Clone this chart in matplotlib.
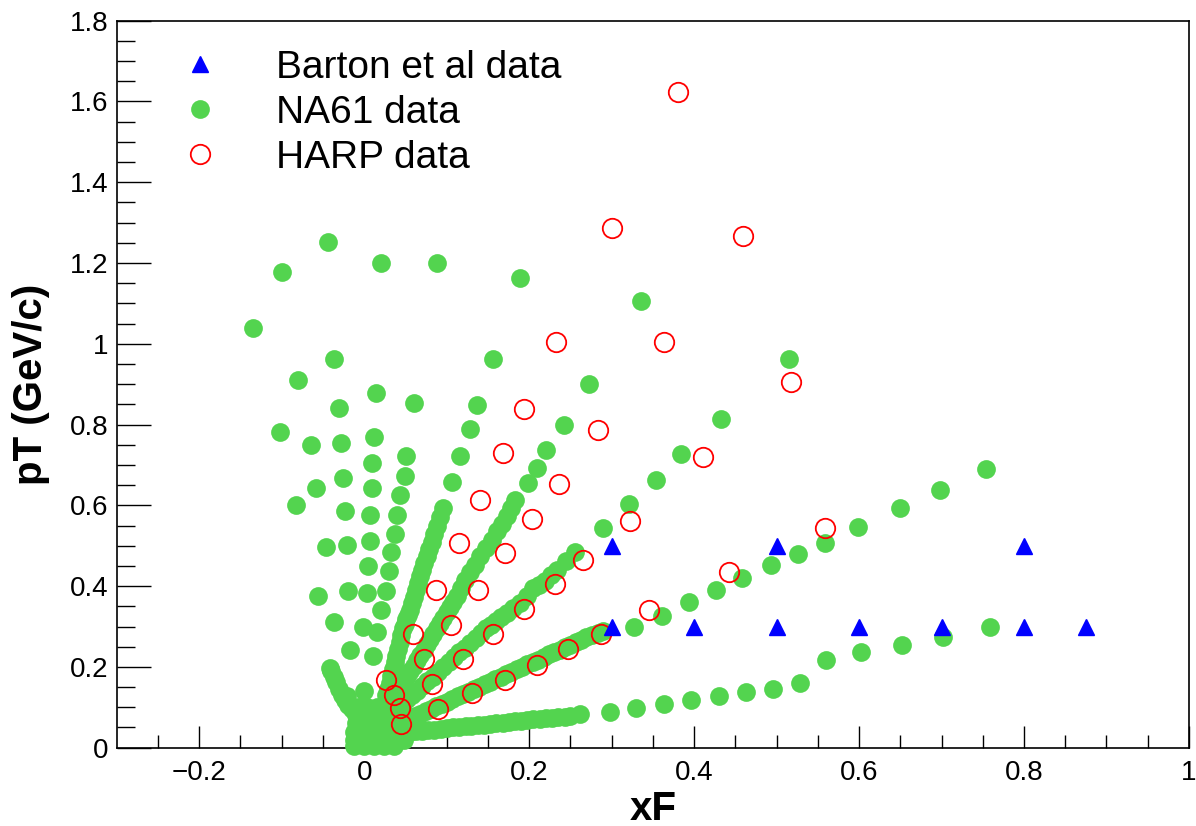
import numpy as np
import matplotlib
matplotlib.use("Agg")
import matplotlib.pyplot as plt
from matplotlib.lines import Line2D

plt.rcParams['font.family'] = ['Liberation Sans', 'DejaVu Sans']

# ---------------- data ----------------
barton_xf = [0.3, 0.3, 0.4, 0.5, 0.5, 0.6, 0.7, 0.8, 0.8, 0.875]
barton_pt = [0.5, 0.3, 0.3, 0.5, 0.3, 0.3, 0.3, 0.5, 0.3, 0.3]

harp_xf = [0.381, 0.301, 0.4595, 0.233, 0.364, 0.517, 0.194, 0.284, 0.4105, 0.1686,
           0.236, 0.140, 0.203, 0.322, 0.559, 0.1144, 0.1706, 0.2655, 0.442, 0.231,
           0.0877, 0.1375, 0.345, 0.194, 0.1055, 0.0587, 0.156, 0.287, 0.247, 0.2098,
           0.1706, 0.131, 0.089, 0.0728, 0.082, 0.026, 0.036, 0.043, 0.0445, 0.120]
harp_pt = [1.623, 1.286, 1.266, 1.004, 1.004, 0.905, 0.839, 0.787, 0.720, 0.730,
           0.653, 0.614, 0.567, 0.562, 0.544, 0.507, 0.482, 0.465, 0.434, 0.405,
           0.391, 0.391, 0.341, 0.344, 0.305, 0.282, 0.282, 0.282, 0.244, 0.205,
           0.168, 0.135, 0.096, 0.219, 0.158, 0.168, 0.131, 0.098, 0.059, 0.219]

# NA61: scattered points at large angles / backward region
na61_wide_xf = [-0.044, -0.100, 0.021, 0.088, -0.135, -0.036, 0.156, -0.080, 0.014, 0.060,
                0.137, -0.030, -0.102, 0.128, -0.065, -0.028, 0.012, 0.116, 0.051, 0.009,
                0.049, 0.107, -0.026, -0.059, 0.009, 0.044, -0.083, -0.023, 0.007, 0.040,
                0.096, 0.037, 0.007, -0.021, -0.046, 0.033, 0.005, 0.030, -0.056, -0.019,
                0.003, 0.026, 0.021, -0.036, -0.001, 0.015, -0.017, 0.011, -0.042, -0.034,
                -0.021, 0.000, 0.189]
na61_wide_pt = [1.252, 1.177, 1.201, 1.200, 1.039, 0.963, 0.963, 0.910, 0.878, 0.854,
                0.848, 0.840, 0.782, 0.788, 0.749, 0.754, 0.769, 0.721, 0.721, 0.705,
                0.672, 0.658, 0.668, 0.643, 0.642, 0.625, 0.600, 0.586, 0.577, 0.577,
                0.594, 0.530, 0.512, 0.501, 0.498, 0.484, 0.451, 0.437, 0.375, 0.388,
                0.384, 0.389, 0.341, 0.310, 0.298, 0.287, 0.242, 0.226, 0.198, 0.163,
                0.127, 0.140, 1.163]

# NA61 backward band near origin
na61_n_xf = [-0.040, -0.037, -0.031, -0.027, -0.023, -0.019, -0.015]
na61_n_pt = [0.190, 0.175, 0.145, 0.130, 0.118, 0.105, 0.095]

# NA61 band f (steep)
na61_f_xf = [0.0918, 0.0878, 0.085, 0.082, 0.079, 0.0757, 0.073, 0.0705, 0.068, 0.0655,
             0.0628, 0.060, 0.0577, 0.0554, 0.053, 0.051, 0.049, 0.0473, 0.045, 0.043,
             0.041, 0.039, 0.037, 0.035, 0.033, 0.031, 0.029, 0.027]
na61_f_pt = [0.571, 0.548, 0.529, 0.510, 0.492, 0.474, 0.457, 0.440, 0.424, 0.408,
             0.391, 0.374, 0.357, 0.341, 0.329, 0.318, 0.307, 0.296, 0.279, 0.262,
             0.245, 0.228, 0.211, 0.194, 0.177, 0.160, 0.145, 0.130]

# NA61 band e
na61_e_xf = [0.336, 0.272, 0.242, 0.221, 0.209, 0.199, 0.183, 0.178, 0.173, 0.167,
             0.161, 0.1545, 0.148, 0.141, 0.134, 0.128, 0.122, 0.117, 0.112, 0.108,
             0.104, 0.100, 0.096, 0.092, 0.088, 0.084, 0.080, 0.076, 0.072, 0.068,
             0.064, 0.060, 0.056, 0.052, 0.048, 0.044, 0.040]
na61_e_pt = [1.105, 0.901, 0.800, 0.738, 0.693, 0.656, 0.614, 0.593, 0.573, 0.554,
             0.536, 0.515, 0.495, 0.474, 0.453, 0.434, 0.416, 0.395, 0.375, 0.361,
             0.348, 0.335, 0.322, 0.309, 0.296, 0.282, 0.269, 0.256, 0.243, 0.230,
             0.217, 0.203, 0.190, 0.177, 0.164, 0.151, 0.138]

# NA61 band d
na61_d_xf = [0.515, 0.433, 0.384, 0.354, 0.321, 0.289, 0.256, 0.245, 0.234, 0.2265,
             0.219, 0.212, 0.205, 0.197, 0.189, 0.181, 0.173, 0.166, 0.160, 0.154,
             0.148, 0.1415, 0.135, 0.1285, 0.122, 0.1155, 0.109, 0.1025, 0.096, 0.0895,
             0.083, 0.0765, 0.070, 0.064, 0.058, 0.0525, 0.047]
na61_d_pt = [0.963, 0.815, 0.726, 0.662, 0.603, 0.544, 0.484, 0.462, 0.441, 0.427,
             0.412, 0.403, 0.395, 0.376, 0.358, 0.345, 0.333, 0.323, 0.314, 0.305,
             0.296, 0.284, 0.272, 0.260, 0.248, 0.236, 0.224, 0.212, 0.200, 0.188,
             0.176, 0.164, 0.152, 0.141, 0.130, 0.120, 0.110]

# NA61 band through (0.3, 0.3)
na61_c_xf = [0.754, 0.698, 0.6495, 0.599, 0.559, 0.526, 0.4935, 0.4586, 0.426, 0.3938,
             0.3607, 0.3276, 0.290, 0.283, 0.276, 0.2695, 0.263, 0.2565, 0.250, 0.2435,
             0.237, 0.2305, 0.224, 0.2175, 0.211, 0.2045, 0.198, 0.1915, 0.185, 0.1785,
             0.172, 0.1655, 0.159, 0.1525, 0.146, 0.1395, 0.133, 0.1265, 0.120, 0.1135,
             0.107, 0.1005, 0.094, 0.0875, 0.081, 0.0745, 0.068, 0.0615, 0.055]
na61_c_pt = [0.691, 0.638, 0.5945, 0.547, 0.508, 0.479, 0.452, 0.419, 0.390, 0.361,
             0.327, 0.298, 0.288, 0.284, 0.279, 0.273, 0.267, 0.261, 0.255, 0.249,
             0.243, 0.237, 0.231, 0.225, 0.218, 0.212, 0.206, 0.200, 0.194, 0.188,
             0.182, 0.176, 0.169, 0.163, 0.157, 0.151, 0.145, 0.139, 0.133, 0.127,
             0.121, 0.114, 0.108, 0.102, 0.096, 0.090, 0.084, 0.078, 0.072]

# NA61 low-angle bands
na61_b_xf = [0.759, 0.702, 0.652, 0.602, 0.560, 0.528, 0.496, 0.463, 0.430, 0.396,
             0.363, 0.330, 0.298, 0.2615, 0.250, 0.243, 0.235, 0.228, 0.220, 0.213,
             0.205, 0.198, 0.190, 0.183, 0.175, 0.168, 0.160, 0.153, 0.145, 0.138,
             0.130, 0.123, 0.115, 0.108, 0.100, 0.093, 0.085, 0.078, 0.070, 0.063,
             0.055, 0.048, 0.040, 0.033, 0.025, 0.018, 0.010, 0.003, -0.005]
na61_b_pt = [0.298, 0.275, 0.255, 0.236, 0.217, 0.160, 0.146, 0.137, 0.128, 0.118,
             0.108, 0.099, 0.089, 0.0836, 0.079, 0.077, 0.076, 0.074, 0.073, 0.071,
             0.070, 0.068, 0.067, 0.065, 0.063, 0.062, 0.060, 0.059, 0.057, 0.056,
             0.054, 0.053, 0.051, 0.050, 0.048, 0.047, 0.045, 0.044, 0.042, 0.041,
             0.039, 0.038, 0.036, 0.035, 0.033, 0.031, 0.030, 0.028, 0.027]

# NA61 dense cluster near origin
na61_o_xf = [-0.012, 0.000, 0.012, 0.024, 0.036,
             -0.012, 0.000, 0.012, 0.024, 0.036, 0.048,
             -0.012, 0.000, 0.012, 0.024, 0.036, 0.048,
             -0.010, 0.002, 0.014, 0.026, 0.038, 0.050,
             -0.010, 0.002, 0.014, 0.026, 0.038, 0.050,
             -0.008, 0.004, 0.016, 0.028, 0.040]
na61_o_pt = [0.005, 0.005, 0.005, 0.005, 0.005,
             0.020, 0.020, 0.020, 0.020, 0.020, 0.020,
             0.040, 0.040, 0.040, 0.040, 0.040, 0.040,
             0.060, 0.060, 0.060, 0.060, 0.060, 0.060,
             0.080, 0.080, 0.080, 0.080, 0.080, 0.080,
             0.100, 0.100, 0.100, 0.100, 0.100]

na61_xf = (na61_wide_xf + na61_n_xf + na61_f_xf + na61_e_xf + na61_d_xf + na61_c_xf
           + na61_b_xf + na61_o_xf)
na61_pt = (na61_wide_pt + na61_n_pt + na61_f_pt + na61_e_pt + na61_d_pt + na61_c_pt
           + na61_b_pt + na61_o_pt)

x_ticks = [-0.2, 0.0, 0.2, 0.4, 0.6, 0.8, 1.0]
x_tick_labels = ['\u22120.2', '0', '0.2', '0.4', '0.6', '0.8', '1']
y_ticks = [0.0, 0.2, 0.4, 0.6, 0.8, 1.0, 1.2, 1.4, 1.6, 1.8]
y_tick_labels = ['0', '0.2', '0.4', '0.6', '0.8', '1', '1.2', '1.4', '1.6', '1.8']

GREEN = '#53d44f'
MS_NA61 = 13.5

# ---------------- figure ----------------
fig = plt.figure(figsize=(11.96, 8.26), dpi=100)
ax = fig.add_axes([0.0976, 0.0948, 0.8965, 0.8802])

ax.plot(na61_xf, na61_pt, ls='none', marker='o', ms=MS_NA61, color=GREEN,
        mec=GREEN, mew=0, clip_on=False, zorder=3)
ax.plot(harp_xf, harp_pt, ls='none', marker='o', ms=14, mfc='none',
        mec='#ff0000', mew=1.3, clip_on=False, zorder=4)
ax.plot(barton_xf, barton_pt, ls='none', marker='^', ms=12, color='#0000ff',
        mec='#0000ff', clip_on=False, zorder=5)

ax.set_xlim(-0.3, 1.0)
ax.set_ylim(0, 1.8)
ax.set_xticks(x_ticks, x_tick_labels)
ax.set_yticks(y_ticks, y_tick_labels)
ax.set_xticks(np.arange(-0.25, 1.0, 0.05), minor=True)
ax.set_yticks(np.arange(0.05, 1.8, 0.05), minor=True)

ax.tick_params(axis='both', which='both', direction='in', top=False, right=False,
               labelsize=20, width=1.0, color='black')
ax.tick_params(axis='x', which='major', length=15.8, pad=9)
ax.tick_params(axis='x', which='minor', length=9.4)
ax.tick_params(axis='y', which='major', length=24.5, pad=6)
ax.tick_params(axis='y', which='minor', length=13)

for sp in ax.spines.values():
    sp.set_linewidth(1.2)
    sp.set_color('black')

ax.set_xlabel('xF', fontsize=29, fontweight='bold')
ax.xaxis.set_label_coords(0.5, -0.058)
ax.set_ylabel('pT (GeV/c)', fontsize=29, fontweight='bold')
ax.yaxis.set_label_coords(-0.062, 0.5)

handles = [
    Line2D([], [], ls='none', marker='^', ms=12, color='#0000ff', mec='#0000ff'),
    Line2D([], [], ls='none', marker='o', ms=MS_NA61, color=GREEN, mec=GREEN, mew=0),
    Line2D([], [], ls='none', marker='o', ms=14, mfc='none', mec='#ff0000', mew=1.3),
]
labels = ['Barton et al data', 'NA61 data', 'HARP data']
ax.legend(handles, labels, loc='upper left', bbox_to_anchor=(0.0595, 0.960),
          frameon=False, fontsize=28, handlelength=1.0, handletextpad=1.45,
          labelspacing=0.23, borderpad=0, borderaxespad=0, numpoints=1)

fig.savefig('out.png', dpi=100)
